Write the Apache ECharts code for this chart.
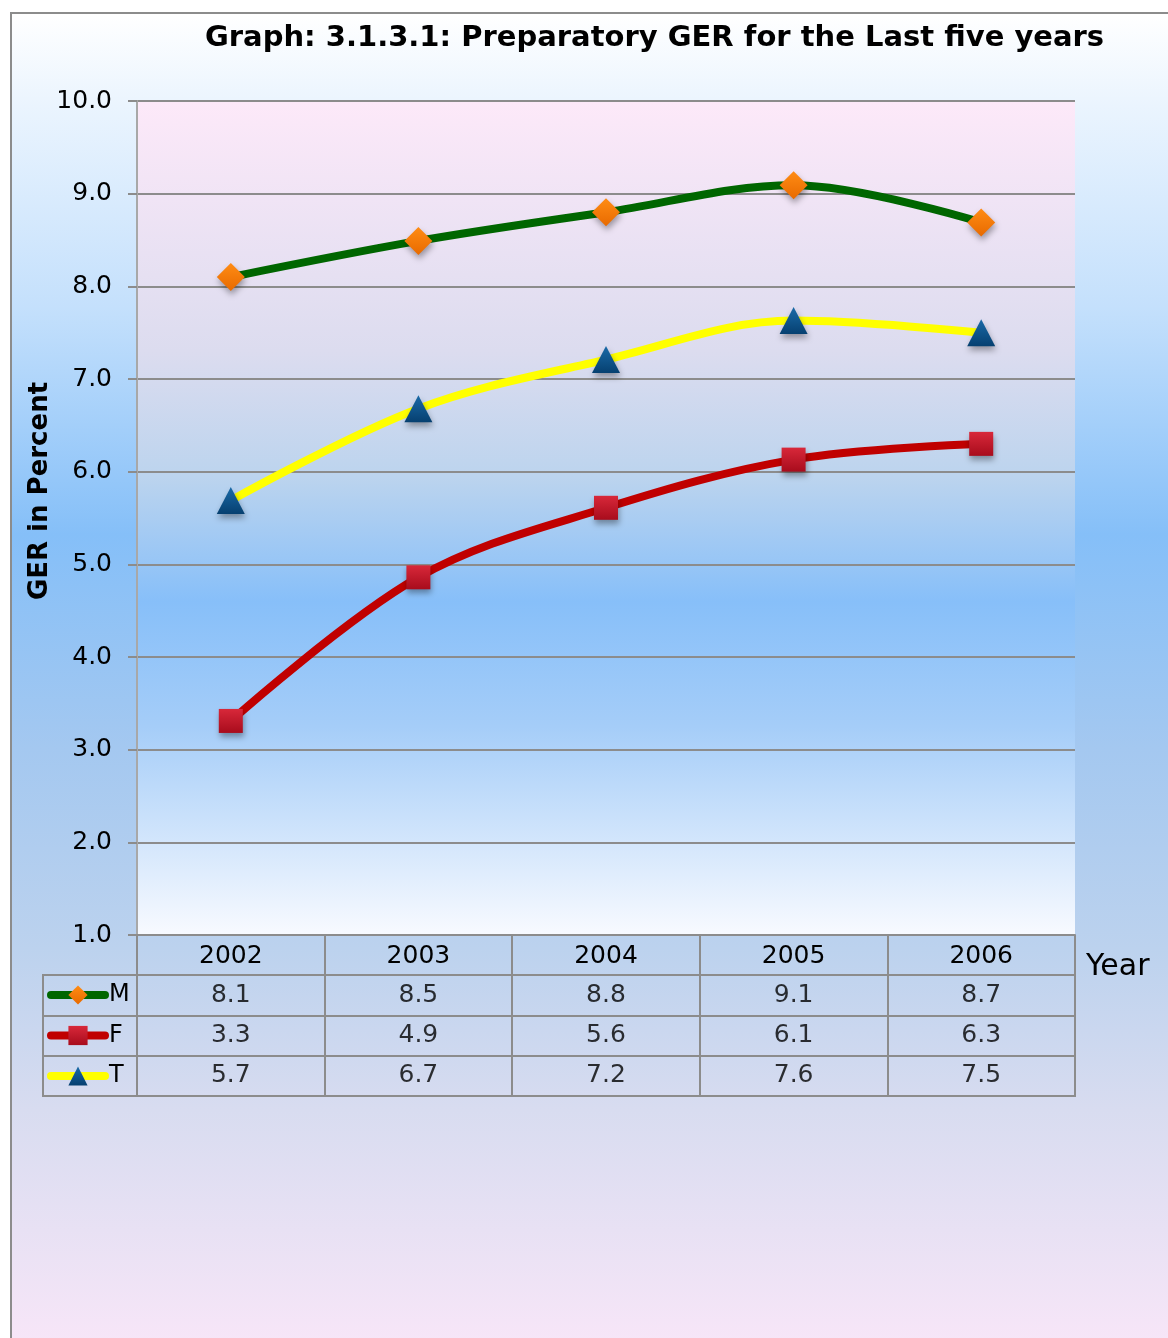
<!DOCTYPE html>
<html><head><meta charset="utf-8">
<script src="https://cdn.jsdelivr.net/npm/echarts@6/dist/echarts.min.js"></script>
<style>
html,body{margin:0;padding:0;width:1168px;height:1338px;overflow:hidden;background:#fff;}
#frame{position:absolute;left:10px;top:12px;width:1172px;height:1340px;box-sizing:border-box;border:2px solid #8c8c8c;
background:linear-gradient(to bottom,#ffffff 0%,#eaf4fe 7%,#c4e0fc 22%,#85bff8 39%,#a4c8f0 55%,#bcd2ee 70%,#d8dcf0 82%,#f8e6f8 100%);}
#chart{position:absolute;left:0;top:0;width:1168px;height:1338px;}
</style></head>
<body><div id="frame"></div><div id="chart"></div>
<script>
// ---- data ----
const years = ['2002', '2003', '2004', '2005', '2006'];
const maleGER = [8.10, 8.49, 8.80, 9.09, 8.69];
const femaleGER = [3.31, 4.86, 5.61, 6.13, 6.30];
const totalGER = [5.69, 6.68, 7.21, 7.63, 7.50];
const seriesNames = ['M', 'F', 'T'];
const yMin = 1, yMax = 10, yInterval = 1;
const titleText = 'Graph: 3.1.3.1: Preparatory GER for the Last five years';
const yAxisTitle = 'GER in Percent';
const xAxisTitle = 'Year';

const FONT = 'DejaVu Sans';
const GRAY = '#8c8c8c';
const chart = echarts.init(document.getElementById('chart'), null, {renderer: 'canvas'});

const plotBg = new echarts.graphic.LinearGradient(0, 0, 0, 1, [
  {offset: 0, color: '#fde9f9'},
  {offset: 0.3, color: '#dcdcef'},
  {offset: 0.45, color: '#bcd4ee'},
  {offset: 0.6, color: '#87bff9'},
  {offset: 0.75, color: '#a5cdf8'},
  {offset: 1, color: '#f8faff'}
]);

const shadow = {shadowBlur: 6, shadowOffsetY: 4, shadowOffsetX: 1, shadowColor: 'rgba(0,0,0,0.35)'};

const tableRows = [maleGER, femaleGER, totalGER];
const tableData = [];
tableRows.forEach((row, r) => row.forEach((v, c) => tableData.push([c, r, v])));

function lineSeries(name, data, lineColor, symbol, size, fill) {
  return {
    name, type: 'line', data, smooth: 0.35, symbol, symbolSize: size,
    xAxisIndex: 0, yAxisIndex: 0,
    lineStyle: {color: lineColor, width: 8, cap: 'round'},
    itemStyle: Object.assign({color: fill}, shadow),
    emphasis: {disabled: true}, z: 3
  };
}

const option = {
  animation: false,
  textStyle: {fontFamily: FONT, color: '#000'},
  title: [
    {text: titleText, left: 205, top: 24, padding: 0, textStyle: {fontSize: 29, fontWeight: 'bold', fontFamily: FONT, color: '#000'}},
    {text: xAxisTitle, left: 1086, top: 952, padding: 0, textStyle: {fontSize: 30, fontWeight: 'normal', fontFamily: FONT, color: '#000'}}
  ],
  legend: {
    data: seriesNames, orient: 'vertical', left: 47, top: 983, padding: 0,
    itemWidth: 54, itemHeight: 24, itemGap: 16.5,
    lineStyle: {width: 8, cap: 'round'},
    textStyle: {fontSize: 24, color: '#000', fontFamily: FONT, lineHeight: 24, padding: [0, 0, 0, -1]},
    selectedMode: false
  },
  grid: [
    {left: 137, top: 101, width: 938, height: 834, show: true, backgroundColor: plotBg, borderWidth: 0},
    {left: 137, top: 975, width: 938, height: 121, show: true, backgroundColor: 'transparent', borderColor: GRAY, borderWidth: 2},
    {left: 43, top: 975, width: 94, height: 121, show: true, backgroundColor: 'transparent', borderColor: GRAY, borderWidth: 2}
  ],
  xAxis: [
    {gridIndex: 0, type: 'category', data: years, boundaryGap: true,
     axisLine: {show: true, lineStyle: {color: GRAY, width: 2}},
     axisTick: {show: true, interval: 0, length: 40, lineStyle: {color: GRAY, width: 2}},
     axisLabel: {fontSize: 25, color: '#000', margin: 9, fontFamily: FONT, interval: 0},
     splitLine: {show: false}},
    {gridIndex: 1, type: 'category', data: years, boundaryGap: true,
     axisLine: {show: false}, axisTick: {show: false}, axisLabel: {show: false},
     splitLine: {show: true, interval: 0, lineStyle: {color: GRAY, width: 2}}},
    {gridIndex: 2, type: 'value', show: false}
  ],
  yAxis: [
    {gridIndex: 0, type: 'value', min: yMin, max: yMax, interval: yInterval,
     name: yAxisTitle, nameLocation: 'middle', nameGap: 84, nameMoveOverlap: false,
     nameTextStyle: {fontSize: 26, fontWeight: 'bold', color: '#000', fontFamily: FONT, padding: [0, 0, 0, 54]},
     axisLine: {show: true, lineStyle: {color: '#a8a8a8', width: 2}},
     axisTick: {show: true, length: 9, lineStyle: {color: GRAY, width: 2}},
     axisLabel: {fontSize: 25, color: '#000', margin: 25, fontFamily: FONT, formatter: v => v.toFixed(1)},
     splitLine: {show: true, lineStyle: {color: GRAY, width: 2}}},
    {gridIndex: 1, type: 'category', data: seriesNames, inverse: true,
     axisLine: {show: false}, axisTick: {show: false}, axisLabel: {show: false},
     splitLine: {show: true, interval: 0, lineStyle: {color: GRAY, width: 2}}},
    {gridIndex: 2, type: 'category', data: seriesNames, inverse: true,
     axisLine: {show: false}, axisTick: {show: false}, axisLabel: {show: false},
     splitLine: {show: true, interval: 0, lineStyle: {color: GRAY, width: 2}}}
  ],
  series: [
    lineSeries('M', maleGER, '#006600', 'diamond', [28, 28],
      new echarts.graphic.LinearGradient(0, 0, 0, 1, [{offset: 0, color: '#ff8c14'}, {offset: 1, color: '#e86a00'}])),
    lineSeries('F', femaleGER, '#c00000', 'rect', [24, 24],
      new echarts.graphic.LinearGradient(0, 0, 0, 1, [{offset: 0, color: '#d8283a'}, {offset: 1, color: '#a80c1c'}])),
    lineSeries('T', totalGER, '#ffff00', 'triangle', [28, 27],
      new echarts.graphic.LinearGradient(0, 0, 0, 1, [{offset: 0, color: '#1a6aa8'}, {offset: 1, color: '#064070'}])),
    {type: 'scatter', xAxisIndex: 1, yAxisIndex: 1, data: tableData, symbolSize: 1,
     itemStyle: {color: 'rgba(0,0,0,0)'}, silent: true,
     label: {show: true, position: 'inside', fontSize: 25, color: '#000', fontFamily: FONT,
             formatter: p => p.value[2].toFixed(1)}}
  ]
};
chart.setOption(option);
</script>
</body></html>
